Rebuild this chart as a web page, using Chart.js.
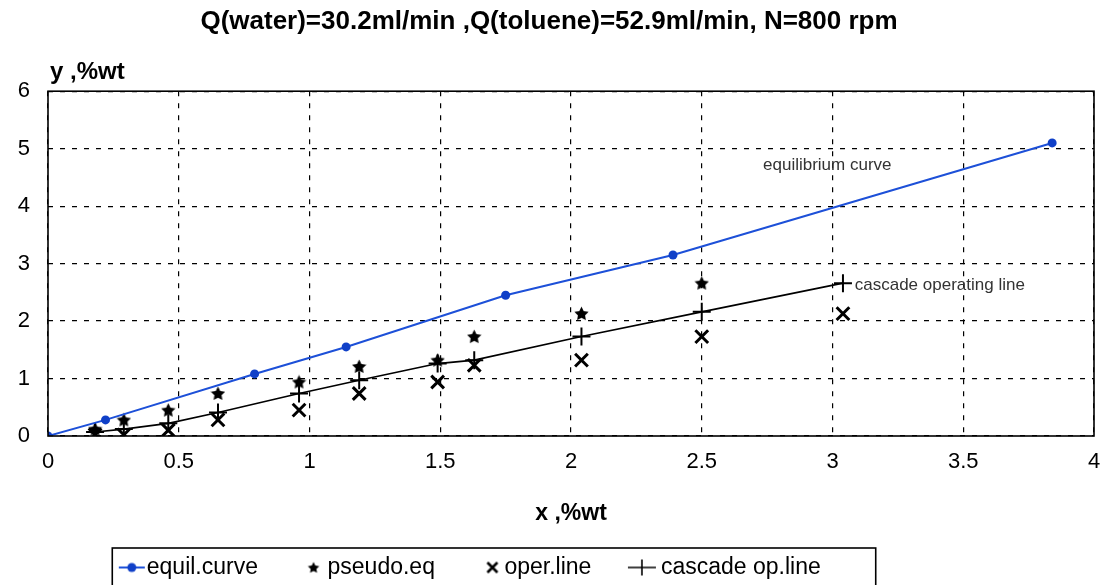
<!DOCTYPE html>
<html>
<head>
<meta charset="utf-8">
<script src="https://cdn.jsdelivr.net/npm/chart.js@4.4.0/dist/chart.umd.min.js"></script>
<style>
  html, body { margin: 0; padding: 0; background: #fff; }
  #wrap { width: 1106px; height: 585px; }
</style>
</head>
<body>
<div id="wrap"><canvas id="myChart" width="1106" height="585"></canvas></div>
<script>
// Equilibrium curve points (x, y in %wt)
const equilX = [0, 0.22, 0.79, 1.14, 1.75, 2.39, 3.84];
const equilY = [0, 0.28, 1.08, 1.55, 2.45, 3.15, 5.10];

// Stage x values shared by the other three series
const stageX = [0.18, 0.29, 0.46, 0.65, 0.96, 1.19, 1.49, 1.63, 2.04, 2.50, 3.04];
const pseudoY = [0.12, 0.28, 0.45, 0.74, 0.94, 1.21, 1.32, 1.73, 2.13, 2.66, null];
const operY = [0.02, 0.02, 0.10, 0.28, 0.45, 0.74, 0.94, 1.23, 1.32, 1.73, 2.13];
const cascadeY = [0.07, 0.12, 0.22, 0.41, 0.74, 0.97, 1.26, 1.32, 1.73, 2.16, 2.66];

// Tick labels
const xTicks = [0, 0.5, 1, 1.5, 2, 2.5, 3, 3.5, 4];
const yTicks = [0, 1, 2, 3, 4, 5, 6];

const seriesNames = ['equil.curve', 'pseudo.eq', 'oper.line', 'cascade op.line'];

// Text notes placed on the plot, in data units
const notes = [
  { text: 'equilibrium curve', x: 2.98, y: 4.71, align: 'center' },
  { text: 'cascade operating line', x: 3.085, y: 2.63, align: 'left' },
];

const FONT = 'Arial, "Liberation Sans", sans-serif';
const BLUE = '#1d50d8';
const LEGEND_FONT = 23;
const ICON_BOX = 48;
const LEGEND_SHIFT = -95; // legend sits left of centre in the original

function toPoints(xs, ys) {
  return xs.map((x, i) => ({ x: x, y: ys[i] })).filter(p => p.y !== null);
}

function starPath(g, cx, cy, R) {
  const r = R * 0.5;
  g.beginPath();
  for (let i = 0; i < 10; i++) {
    const a = -Math.PI / 2 + i * Math.PI / 5;
    const rad = i % 2 ? r : R;
    g.lineTo(cx + rad * Math.cos(a), cy + rad * Math.sin(a));
  }
  g.closePath();
}

function makeStar(size) {
  const c = document.createElement('canvas');
  c.width = c.height = size;
  const g = c.getContext('2d');
  g.fillStyle = '#000';
  starPath(g, size / 2, size / 2 + 0.5, size / 2);
  g.fill();
  return c;
}

// Legend icon: canvas as wide as the legend box plus the text gap on both sides,
// so the glyph can sit right next to its text
function makeIcon(h, draw) {
  const c = document.createElement('canvas');
  c.width = ICON_BOX + LEGEND_FONT;
  c.height = h;
  draw(c.getContext('2d'), c.width, h);
  return c;
}

const starMarker = makeStar(15);

const legendIcons = [
  makeIcon(12, (g, w, h) => {
    g.strokeStyle = BLUE; g.lineWidth = 2;
    g.beginPath(); g.moveTo(w - 28, h / 2); g.lineTo(w - 2, h / 2); g.stroke();
    g.fillStyle = '#1040c8';
    g.beginPath(); g.arc(w - 15, h / 2, 4.5, 0, Math.PI * 2); g.fill();
  }),
  makeIcon(14, (g, w, h) => {
    g.fillStyle = '#000';
    starPath(g, w - 14, h / 2 + 0.5, 6);
    g.fill();
  }),
  makeIcon(14, (g, w, h) => {
    g.strokeStyle = '#000'; g.lineWidth = 2.6;
    const cx = w - 12, cy = h / 2, d = 5;
    g.beginPath();
    g.moveTo(cx - d, cy - d); g.lineTo(cx + d, cy + d);
    g.moveTo(cx + d, cy - d); g.lineTo(cx - d, cy + d);
    g.stroke();
  }),
  makeIcon(18, (g, w, h) => {
    g.strokeStyle = '#000'; g.lineWidth = 1.6;
    g.beginPath();
    g.moveTo(w - 33, h / 2); g.lineTo(w - 5, h / 2);
    g.moveTo(w - 19, 1); g.lineTo(w - 19, h - 1);
    g.stroke();
  }),
];

// Frame round the plot, y axis title, notes and legend box
const extras = {
  id: 'extras',
  afterLayout(chart) {
    const lg = chart.legend;
    if (lg) {
      lg.left += LEGEND_SHIFT;
      lg.right += LEGEND_SHIFT;
    }
  },
  afterDatasetsDraw(chart) {
    const { ctx, chartArea: a, scales } = chart;
    ctx.save();
    ctx.fillStyle = '#333';
    ctx.font = '17px ' + FONT;
    ctx.textBaseline = 'middle';
    notes.forEach(n => {
      ctx.textAlign = n.align;
      ctx.fillText(n.text, scales.x.getPixelForValue(n.x), scales.y.getPixelForValue(n.y));
    });
    ctx.strokeStyle = '#000';
    ctx.lineWidth = 1.6;
    ctx.strokeRect(a.left, a.top, a.right - a.left, a.bottom - a.top);
    ctx.fillStyle = '#000';
    ctx.font = 'bold 24px ' + FONT;
    ctx.textAlign = 'left';
    ctx.fillText('y ,%wt', a.left + 2, a.top - 19);
    ctx.restore();
  },
  afterDraw(chart) {
    const lg = chart.legend;
    if (!lg || !lg.legendHitBoxes.length) return;
    const boxes = lg.legendHitBoxes;
    const l = Math.min(...boxes.map(b => b.left)) + 25;
    const r = Math.max(...boxes.map(b => b.left + b.width)) + 55;
    const ctx = chart.ctx;
    ctx.save();
    ctx.strokeStyle = '#000';
    ctx.lineWidth = 1.6;
    ctx.strokeRect(l, lg.top + 2, r - l, 60);
    ctx.restore();
  }
};

const ctx = document.getElementById('myChart');

new Chart(ctx, {
  type: 'scatter',
  data: {
    datasets: [
      {
        label: seriesNames[0],
        data: toPoints(equilX, equilY),
        showLine: true,
        borderColor: BLUE,
        borderWidth: 2,
        pointStyle: 'circle',
        pointRadius: 4.5,
        pointBackgroundColor: '#1040c8',
        pointBorderColor: '#1040c8',
        pointBorderWidth: 0,
      },
      {
        label: seriesNames[1],
        data: toPoints(stageX, pseudoY),
        pointStyle: starMarker,
      },
      {
        label: seriesNames[2],
        data: toPoints(stageX, operY),
        pointStyle: 'crossRot',
        pointRadius: 9,
        pointBorderWidth: 3,
        pointBorderColor: '#000',
      },
      {
        label: seriesNames[3],
        data: toPoints(stageX, cascadeY),
        showLine: true,
        borderColor: '#000',
        borderWidth: 1.6,
        pointStyle: 'cross',
        pointRadius: 9,
        pointBorderWidth: 2,
        pointBorderColor: '#000',
      },
    ],
  },
  options: {
    responsive: false,
    animation: false,
    devicePixelRatio: 1,
    layout: { padding: { left: 0, right: 8, top: 0, bottom: -4 } },
    plugins: {
      title: {
        display: true,
        text: 'Q(water)=30.2ml/min ,Q(toluene)=52.9ml/min, N=800 rpm',
        color: '#000',
        font: { family: FONT, size: 26, weight: 'bold' },
        padding: { top: 6, bottom: 54 },
      },
      legend: {
        position: 'bottom',
        labels: {
          color: '#000',
          font: { family: FONT, size: LEGEND_FONT },
          usePointStyle: true,
          pointStyleWidth: ICON_BOX,
          padding: 10,
          generateLabels: chart => chart.data.datasets.map((ds, i) => ({
            text: ds.label,
            pointStyle: legendIcons[i],
            fillStyle: 'transparent',
            strokeStyle: 'transparent',
            lineWidth: 0,
            hidden: false,
            datasetIndex: i,
            fontColor: '#000',
          })),
        },
      },
      tooltip: { enabled: false },
    },
    scales: {
      x: {
        type: 'linear',
        min: 0,
        max: 4,
        afterBuildTicks: s => { s.ticks = xTicks.map(v => ({ value: v })); },
        afterFit: s => { s.height = 110; },
        ticks: {
          color: '#000',
          font: { family: FONT, size: 22 },
          padding: 0,
          callback: v => String(v),
        },
        grid: { color: '#000', lineWidth: 1.2, drawTicks: true, tickLength: 13, tickColor: 'rgba(0,0,0,0)' },
        border: { display: false, dash: [5, 7] },
        title: {
          display: true,
          text: 'x ,%wt',
          color: '#000',
          font: { family: FONT, size: 23, weight: 'bold' },
          padding: { top: 0, bottom: 19 },
        },
      },
      y: {
        type: 'linear',
        min: 0,
        max: 6,
        afterBuildTicks: s => { s.ticks = yTicks.map(v => ({ value: v })); },
        afterFit: s => { s.width = 48; },
        ticks: {
          color: '#000',
          font: { family: FONT, size: 22 },
          padding: 18,
          callback: v => String(v),
        },
        grid: { color: '#000', lineWidth: 1.2, drawTicks: false },
        border: { display: false, dash: [5, 7] },
      },
    },
  },
  plugins: [extras],
});
</script>
</body>
</html>
